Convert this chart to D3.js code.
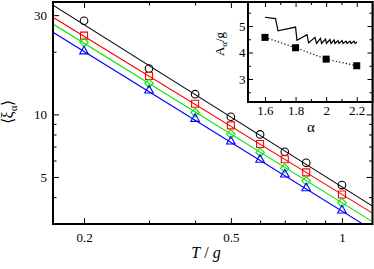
<!DOCTYPE html>
<html>
<head>
<meta charset="utf-8">
<script src="https://cdn.jsdelivr.net/npm/d3@7"></script>
<style>
    body { margin: 0; background: #fff; }
    svg { display: block; }
    svg text { font-family: "Liberation Serif", "Times New Roman", serif !important; fill: #000; }
</style>
</head>
<body>
<div id="chart"></div>
<script>
// main panel data: <xi_alpha> vs T/g
var temps = [0.2, 0.3, 0.4, 0.5, 0.6, 0.7, 0.8, 1.0];
var xiBlack = [28.2, 16.6, 12.5, 9.74, 8.01, 6.61, 5.85, 4.57];
var xiRed = [23.9, 15.3, 11.25, 8.85, 7.2, 6.08, 5.26, 4.12];
var xiGreen = [22.2, 14.1, 10.2, 8.04, 6.56, 5.5, 4.78, 3.76];
var xiBlue = [20.2, 13.1, 9.57, 7.44, 6.08, 5.17, 4.44, 3.47];

// fitted power laws, value at both ends of the T range
var fitT = [0.1648, 1.21];
var fitBlack = [33.5, 3.62];
var fitRed = [29.3, 3.35];
var fitGreen = [27.2, 3.05];
var fitBlue = [24.8, 2.78];

var xMajor = [0.2, 0.5, 1];
var xMinor = [0.3, 0.4, 0.6, 0.7, 0.8, 0.9];
var yMajor = [5, 10, 30];
var yMinor = [3, 4, 6, 7, 8, 9, 20];

// inset data: A_alpha/g vs alpha
var alphaPts = [1.6, 1.8, 2.0, 2.2];
var ampPts = [4.57, 4.18, 3.75, 3.50];
var sawAlpha = [1.600, 1.669, 1.685, 1.800, 1.809, 1.875, 1.885, 1.927, 1.937, 1.963, 1.970,
    1.996, 2.002, 2.025, 2.032, 2.052, 2.058, 2.078, 2.084, 2.104, 2.110, 2.130, 2.137,
    2.156, 2.163, 2.182, 2.189, 2.202];
var sawAmp = [5.33, 5.28, 4.82, 4.96, 4.46, 4.67, 4.36, 4.57, 4.34, 4.53, 4.34,
    4.51, 4.34, 4.49, 4.34, 4.47, 4.34, 4.45, 4.34, 4.45, 4.34, 4.43, 4.34,
    4.43, 4.34, 4.43, 4.34, 4.40];
var insetXMajor = [1.6, 1.8, 2.0, 2.2];
var insetXMinor = [1.7, 1.9, 2.1];
var insetYMajor = [3, 4, 5];
var insetYMinor = [2.5, 3.5, 4.5, 5.5];

(function(){
    var width = 374;
    var height = 269;
    var left = 53, right = 372.5, top = 2, bottom = 224;
    var serif = "'Liberation Serif', 'Times New Roman', serif";

    var svg = d3.select("#chart")
        .append("svg")
        .attr("width", width)
        .attr("height", height)
        .attr("font-family", serif);

    var x = d3.scaleLog().domain([0.1648, 1.21]).range([left, right]);
    var y = d3.scaleLog().domain([2.97, 34.7]).range([bottom, top]);

    svg.append("clipPath")
        .attr("id", "plotClip")
        .append("rect")
        .attr("x", left).attr("y", top)
        .attr("width", right - left).attr("height", bottom - top);

    function fmt(d) { return String(d); }

    // ticks, all pointing inward
    function tickGroup(axis, tx, ty) {
        var g = svg.append("g")
            .attr("transform", "translate(" + tx + "," + ty + ")")
            .call(axis)
            .attr("font-family", serif);
        g.select(".domain").remove();
        g.selectAll("line").attr("stroke", "#000").attr("stroke-width", 1);
        g.selectAll("text")
            .style("font-size", "13px")
            .style("font-family", serif);
        return g;
    }

    tickGroup(d3.axisBottom(x).tickValues(xMajor).tickFormat(fmt).tickSize(-6).tickPadding(8.3), 0, bottom);
    tickGroup(d3.axisBottom(x).tickValues(xMinor).tickFormat("").tickSize(-3.5), 0, bottom);
    tickGroup(d3.axisTop(x).tickValues(xMajor).tickFormat("").tickSize(-6), 0, top);
    tickGroup(d3.axisTop(x).tickValues(xMinor).tickFormat("").tickSize(-3.5), 0, top);
    tickGroup(d3.axisLeft(y).tickValues(yMajor).tickFormat(fmt).tickSize(-6).tickPadding(6), left, 0);
    tickGroup(d3.axisLeft(y).tickValues(yMinor).tickFormat("").tickSize(-3.5), left, 0);
    tickGroup(d3.axisRight(y).tickValues(yMajor).tickFormat("").tickSize(-6), right, 0);
    tickGroup(d3.axisRight(y).tickValues(yMinor).tickFormat("").tickSize(-3.5), right, 0);

    var series = [
        { vals: xiBlack, fit: fitBlack, color: "#000000", shape: "circle" },
        { vals: xiRed, fit: fitRed, color: "#ff0000", shape: "square" },
        { vals: xiGreen, fit: fitGreen, color: "#00e600", shape: "diamond" },
        { vals: xiBlue, fit: fitBlue, color: "#0000ff", shape: "triangle" }
    ];

    var fitLine = d3.line()
        .x(function(d){ return x(d[0]); })
        .y(function(d){ return y(d[1]); });

    var plot = svg.append("g").attr("clip-path", "url(#plotClip)");

    series.forEach(function(s){
        plot.append("path")
            .attr("d", fitLine(d3.zip(fitT, s.fit)))
            .attr("fill", "none")
            .attr("stroke", s.color)
            .attr("stroke-width", 1.1);
    });

    function shapePath(shape, cx, cy) {
        if (shape === "square") {
            return "M" + (cx - 3.5) + "," + (cy - 3.5) + "h7v7h-7z";
        }
        if (shape === "diamond") {
            return "M" + cx + "," + (cy - 4.3) + "L" + (cx + 4.3) + "," + cy +
                "L" + cx + "," + (cy + 4.3) + "L" + (cx - 4.3) + "," + cy + "Z";
        }
        if (shape === "triangle") {
            return "M" + cx + "," + (cy - 4.6) + "L" + (cx + 4.3) + "," + (cy + 3) +
                "L" + (cx - 4.3) + "," + (cy + 3) + "Z";
        }
        return null;
    }

    series.forEach(function(s){
        var pts = d3.zip(temps, s.vals);
        if (s.shape === "circle") {
            plot.selectAll(".pt-circle")
                .data(pts)
                .enter().append("circle")
                .attr("cx", function(d){ return x(d[0]); })
                .attr("cy", function(d){ return y(d[1]); })
                .attr("r", 3.8)
                .attr("fill", "none")
                .attr("stroke", s.color)
                .attr("stroke-width", 1.1);
        } else {
            plot.selectAll(".pt-" + s.shape)
                .data(pts)
                .enter().append("path")
                .attr("d", function(d){ return shapePath(s.shape, x(d[0]), y(d[1])); })
                .attr("fill", "none")
                .attr("stroke", s.color)
                .attr("stroke-width", 1.1);
        }
    });

    svg.append("rect")
        .attr("x", left).attr("y", top)
        .attr("width", right - left).attr("height", bottom - top)
        .attr("fill", "none")
        .attr("stroke", "#000")
        .attr("stroke-width", 2);

    // axis titles
    var yTitle = svg.append("text")
        .attr("transform", "translate(13,112) rotate(-90)")
        .attr("text-anchor", "middle")
        .style("font-size", "16px");
    yTitle.append("tspan").text("\u27E8\u03BE");
    yTitle.append("tspan").attr("dy", 4).style("font-size", "11px").text("\u03B1");
    yTitle.append("tspan").attr("dy", -4).text("\u27E9");

    var xTitle = svg.append("text")
        .attr("x", 206).attr("y", 257.5)
        .attr("text-anchor", "middle")
        .style("font-size", "16px");
    xTitle.append("tspan").style("font-style", "italic").text("T");
    xTitle.append("tspan").text(" / ");
    xTitle.append("tspan").style("font-style", "italic").text("g");

    // inset
    var iLeft = 248, iRight = 372.5, iTop = 2, iBottom = 102;
    var ix = d3.scaleLinear().domain([1.489, 2.303]).range([iLeft, iRight]);
    var iy = d3.scaleLinear().domain([2.132, 5.906]).range([iBottom, iTop]);

    svg.append("rect")
        .attr("x", iLeft).attr("y", iTop)
        .attr("width", iRight - iLeft).attr("height", iBottom - iTop)
        .attr("fill", "#fff");

    tickGroup(d3.axisBottom(ix).tickValues(insetXMajor).tickFormat(fmt).tickSize(-5).tickPadding(3.8), 0, iBottom);
    tickGroup(d3.axisBottom(ix).tickValues(insetXMinor).tickFormat("").tickSize(-3), 0, iBottom);
    tickGroup(d3.axisTop(ix).tickValues(insetXMajor).tickFormat("").tickSize(-5), 0, iTop);
    tickGroup(d3.axisTop(ix).tickValues(insetXMinor).tickFormat("").tickSize(-3), 0, iTop);
    tickGroup(d3.axisLeft(iy).tickValues(insetYMajor).tickFormat(fmt).tickSize(-5).tickPadding(2.5), iLeft, 0);
    tickGroup(d3.axisLeft(iy).tickValues(insetYMinor).tickFormat("").tickSize(-3), iLeft, 0);
    tickGroup(d3.axisRight(iy).tickValues(insetYMajor).tickFormat("").tickSize(-5), iRight, 0);
    tickGroup(d3.axisRight(iy).tickValues(insetYMinor).tickFormat("").tickSize(-3), iRight, 0);

    var insetLine = d3.line()
        .x(function(d){ return ix(d[0]); })
        .y(function(d){ return iy(d[1]); });

    svg.append("path")
        .attr("d", insetLine(d3.zip(sawAlpha, sawAmp)))
        .attr("fill", "none")
        .attr("stroke", "#000")
        .attr("stroke-width", 1.2)
        .attr("stroke-linejoin", "miter");

    svg.append("path")
        .attr("d", insetLine(d3.zip(alphaPts, ampPts)))
        .attr("fill", "none")
        .attr("stroke", "#000")
        .attr("stroke-width", 1.2)
        .attr("stroke-dasharray", "1.2,2.2");

    svg.selectAll(".amp-sq")
        .data(d3.zip(alphaPts, ampPts))
        .enter().append("rect")
        .attr("class", "amp-sq")
        .attr("x", function(d){ return ix(d[0]) - 3.5; })
        .attr("y", function(d){ return iy(d[1]) - 3.5; })
        .attr("width", 7)
        .attr("height", 7)
        .attr("fill", "#000");

    svg.append("rect")
        .attr("x", iLeft).attr("y", iTop)
        .attr("width", iRight - iLeft).attr("height", iBottom - iTop)
        .attr("fill", "none")
        .attr("stroke", "#000")
        .attr("stroke-width", 2);

    var iyTitle = svg.append("text")
        .attr("transform", "translate(224,44) rotate(-90)")
        .attr("text-anchor", "middle")
        .style("font-size", "13px");
    iyTitle.append("tspan").text("A");
    iyTitle.append("tspan").attr("dy", 3).style("font-size", "9px").text("\u03B1");
    iyTitle.append("tspan").attr("dy", -3).text("/g");

    svg.append("text")
        .attr("x", 311).attr("y", 131.5)
        .attr("text-anchor", "middle")
        .style("font-size", "15px")
        .text("\u03B1");
})();
</script>
</body>
</html>
